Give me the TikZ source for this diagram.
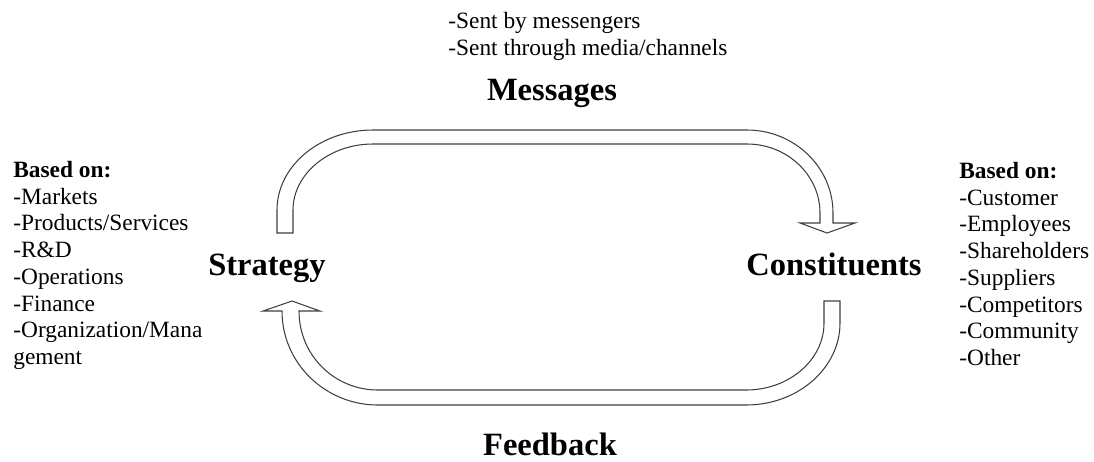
\documentclass[tikz,border=0pt]{standalone}
\usepackage{fontspec}
\setmainfont{Liberation Serif}

\begin{document}
\begin{tikzpicture}[x = 0.02cm, y = -0.02cm]
     \tikzset{title/.style     = {font       = \fontsize{18.5}{22}\selectfont\bfseries,
                                  inner sep  = 0pt,
                                  anchor     = base},
              notes/.style     = {font       = \fontsize{13.3}{15.2}\selectfont,
                                  align      = left,
                                  inner sep  = 0pt,
                                  anchor     = north west},
              bandarrow/.style = {draw       = black!75,
                                  line width = 0.6pt,
                                  fill       = white}}
     \useasboundingbox (0,0) rectangle (1094,461);
     \node[title] (strategy)     at (267,275) {Strategy};
     \node[title] (constituents) at (834,275) {Constituents};
     \node[title] (messages)     at (552,100) {Messages};
     \node[title] (feedback)     at (550,455) {Feedback};
     \node[notes] (msgnotes)     at (448,12)  {-Sent by messengers\\-Sent through media/channels};
     \node[notes] (stratlist)    at (13,161)  {\textbf{Based on:}\\-Markets\\-Products/Services\\-R\&D\\-Operations\\-Finance\\-Organization/Mana\\gement};
     \node[notes] (constlist)    at (959,162) {\textbf{Based on:}\\-Customer\\-Employees\\-Shareholders\\-Suppliers\\-Competitors\\-Community\\-Other};
     % fleche du haut : strategy -> constituents
     \draw[bandarrow] (277,233) -- (277,210)
          .. controls (277,166) and (320,130) .. (373,130) -- (747,130)
          .. controls (794,130) and (833,167) .. (833,213) -- (833,223)
          -- (855,223) -- (827,233) -- (800,223) -- (820,223) -- (820,213)
          .. controls (820,175) and (787,144) .. (747,144) -- (373,144)
          .. controls (329,144) and (293,174) .. (293,210) -- (293,233) -- cycle;
     % fleche du bas : constituents -> strategy
     \draw[bandarrow] (840,301) -- (840,323)
          .. controls (840,368) and (798,405) .. (746,405) -- (378,405)
          .. controls (325,405) and (282,363) .. (282,311)
          -- (263,311) -- (292,301) -- (320,311) -- (299,311)
          .. controls (299,355) and (334,390) .. (378,390) -- (746,390)
          .. controls (789,390) and (824,360) .. (824,323) -- (824,301) -- cycle;
\end{tikzpicture}
\end{document}
